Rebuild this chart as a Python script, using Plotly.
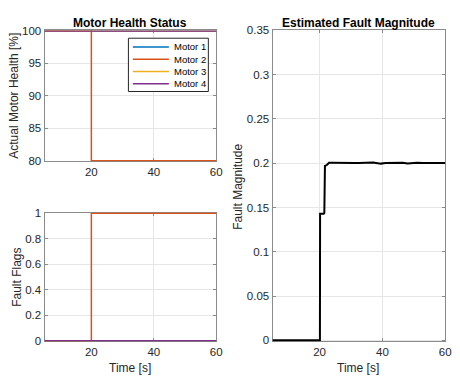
import plotly.graph_objects as go

# ---- data ----
motor_names = ["Motor 1", "Motor 2", "Motor 3", "Motor 4"]
motor_colors = ["#0072BD", "#D95319", "#EDB120", "#7E2F8E"]

t_health = [5, 20, 20, 60]
health_m1 = [100, 100, 100, 100]
health_m2 = [100, 100, 80, 80]
health_m3 = [100, 100, 100, 100]
health_m4 = [100, 100, 100, 100]

t_flags = [5, 20, 20, 60]
flags_m1 = [0, 0, 0, 0]
flags_m2 = [0, 0, 1, 1]
flags_m3 = [0, 0, 0, 0]
flags_m4 = [0, 0, 0, 0]

t_mag = [5, 20.1, 20.15, 21.3, 21.5, 21.7, 22.3, 23.0, 24.0, 25.5, 27.0, 28.5, 30.0, 31.0,
         32.5, 34.0, 35.5, 37.0, 38.0, 39.5, 41.0, 43.0, 45.0, 46.5, 48.0, 49.5, 51.0,
         53.0, 55.0, 56.5, 58.0, 60.0]
mag = [0.0, 0.0, 0.143, 0.143, 0.144, 0.197, 0.198, 0.2005, 0.2006, 0.2004, 0.2006, 0.2002,
       0.1996, 0.2003, 0.2002, 0.2006, 0.2004, 0.2009, 0.2004, 0.1996, 0.2003, 0.2004,
       0.2003, 0.2005, 0.1997, 0.2003, 0.2005, 0.2002, 0.2004, 0.1999, 0.2006, 0.2003]

health = [health_m1, health_m2, health_m3, health_m4]
flags = [flags_m1, flags_m2, flags_m3, flags_m4]

# the page body shifts the figure by 8px; lay out in target pixels and compensate
OFF = 8
W, H = 460, 382
FONT = "Liberation Sans, Arial, sans-serif"
AX_COL = "#8a8a8a"
TXT_COL = "#262626"
GRID_COL = "#e6e6e6"

fig = go.Figure()

for i in range(4):
    fig.add_trace(go.Scatter(x=t_health, y=health[i], mode="lines", name=motor_names[i],
                             line=dict(color=motor_colors[i], width=1.5),
                             xaxis="x", yaxis="y", showlegend=False))
for i in range(4):
    fig.add_trace(go.Scatter(x=t_flags, y=flags[i], mode="lines", name=motor_names[i],
                             line=dict(color=motor_colors[i], width=1.5),
                             xaxis="x2", yaxis="y2", showlegend=False))
fig.add_trace(go.Scatter(x=t_mag, y=mag, mode="lines", name="Fault",
                         line=dict(color="black", width=2),
                         xaxis="x3", yaxis="y3", showlegend=False))

def fx(x):  # target pixel -> paper x
    return (x - OFF) / W

def fy(y):
    return 1 - (y - OFF) / H

def px_x(a, b):
    return [fx(a), fx(b)]

def px_y(top, bot):
    return [fy(bot), fy(top)]

common = dict(showline=True, linecolor=AX_COL, linewidth=1, mirror="ticks",
              ticks="inside", ticklen=3, tickcolor=AX_COL, showgrid=True,
              gridcolor=GRID_COL, gridwidth=1, zeroline=False, layer="below traces",
              tickfont=dict(family=FONT, size=11.5, color=TXT_COL))

xt = dict(range=[5, 60], tickvals=[20, 40, 60], ticktext=["20", "40", "60"])

fig.update_layout(
    width=W, height=H, margin=dict(l=0, r=0, t=0, b=0, pad=0),
    paper_bgcolor="white", plot_bgcolor="white",
    font=dict(family=FONT, color=TXT_COL),
    xaxis=dict(domain=px_x(45, 219), anchor="y", **xt, **common),
    yaxis=dict(domain=px_y(25, 160), anchor="x", range=[79.93, 100.07],
               tickvals=[80, 85, 90, 95, 100], **common),
    xaxis2=dict(domain=px_x(45, 219), anchor="y2", **xt, **common),
    yaxis2=dict(domain=px_y(213, 346), anchor="x2", range=[-0.005, 1.005],
                tickvals=[0, 0.2, 0.4, 0.6, 0.8, 1], ticktext=["0", "0.2", "0.4", "0.6", "0.8", "1"], **common),
    xaxis3=dict(domain=px_x(276, 451), anchor="y3", **xt, **common),
    yaxis3=dict(domain=px_y(25, 346), anchor="x3", range=[-0.0012, 0.35],
                tickvals=[0, 0.05, 0.1, 0.15, 0.2, 0.25, 0.3, 0.35],
                ticktext=["0", "0.05", "0.1", "0.15", "0.2", "0.25", "0.3", "0.35"], **common),
    showlegend=False,
)

def ann(text, x, y, size=12, bold=False, angle=0, xanchor="center", color=None):
    fig.add_annotation(text=("<b>%s</b>" % text) if bold else text,
                       x=fx(x), y=fy(y), xref="paper", yref="paper",
                       showarrow=False, textangle=angle,
                       font=dict(family=FONT, size=size,
                                 color=color or ("black" if bold else TXT_COL)),
                       xanchor=xanchor, yanchor="middle")

ann("Motor Health Status", 132, 17, size=12, bold=True)
ann("Estimated Fault Magnitude", 363, 17, size=12, bold=True)
ann("Time [s]", 132, 373, size=12)
ann("Time [s]", 363, 373, size=12)
ann("Actual Motor Health [%]", 14.5, 92, size=12, angle=-90)
ann("Fault Flags", 17.5, 280, size=12, angle=-90)
ann("Fault Magnitude", 241.5, 186, size=12, angle=-90)

# ---- legend (compact, MATLAB style) ----
LX0, LX1, LY0, LY1 = 130, 211, 33, 88
fig.add_shape(type="rect", xref="paper", yref="paper",
              x0=fx(LX0), x1=fx(LX1), y0=fy(LY1), y1=fy(LY0),
              line=dict(color="#262626", width=1), fillcolor="white", layer="above")
for i, name in enumerate(motor_names):
    yy = 42 + i * 12.7
    fig.add_shape(type="line", xref="paper", yref="paper",
                  x0=fx(134.5), x1=fx(171), y0=fy(yy), y1=fy(yy),
                  line=dict(color=motor_colors[i], width=1.5), layer="above")
    ann(name, 174.5, yy, size=9.5, xanchor="left", color="black")

fig.write_html("out.html")
